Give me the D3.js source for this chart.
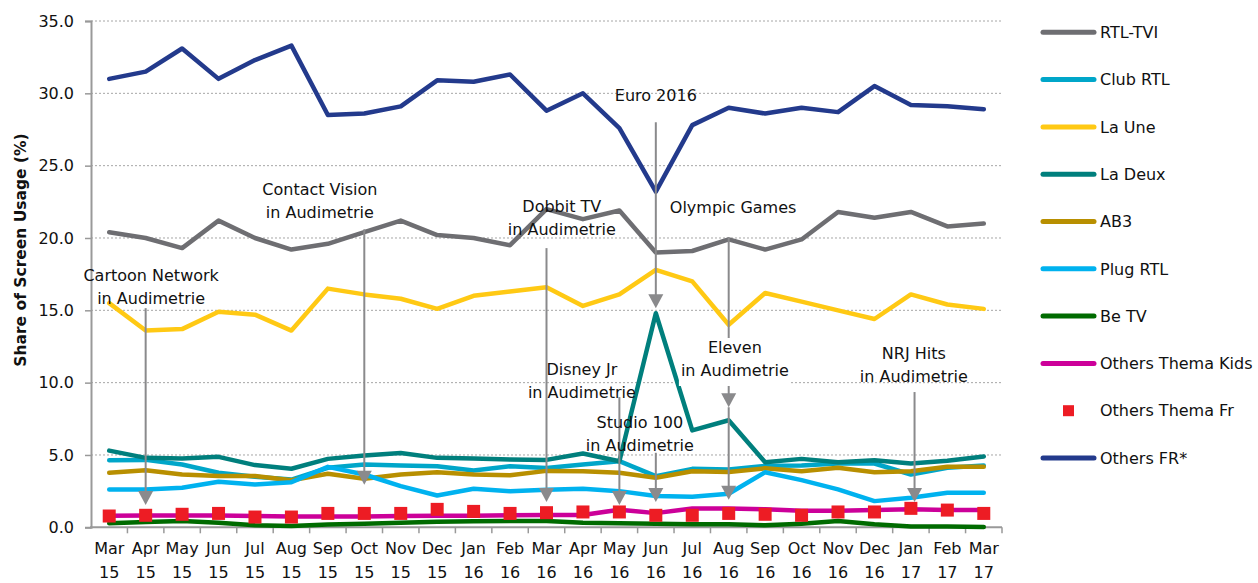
<!DOCTYPE html>
<html><head><meta charset="utf-8">
<script src="https://cdn.jsdelivr.net/npm/d3@7"></script>
<style>
html,body{margin:0;padding:0;background:#fff;}
svg text{font-family:"DejaVu Sans",Verdana,sans-serif;fill:#111;}
</style></head>
<body><svg id="chart" width="1258" height="583"></svg>
<script>
const months = ["Mar","Apr","May","Jun","Jul","Aug","Sep","Oct","Nov","Dec","Jan","Feb","Mar","Apr","May","Jun","Jul","Aug","Sep","Oct","Nov","Dec","Jan","Feb","Mar"];
const years  = ["15","15","15","15","15","15","15","15","15","15","16","16","16","16","16","16","16","16","16","16","16","16","17","17","17"];
const categories = months.map((m,i)=>m+" "+years[i]);
const yTicks = [0,5,10,15,20,25,30,35];

const rtlTVI   = [20.4,20.0,19.3,21.2,20.0,19.2,19.6,20.4,21.2,20.2,20.0,19.5,22.0,21.3,21.9,19.0,19.1,19.9,19.2,19.9,21.8,21.4,21.8,20.8,21.0];
const clubRTL  = [4.64,4.66,4.34,3.77,3.49,3.30,4.11,4.34,4.27,4.22,3.93,4.22,4.10,4.34,4.57,3.54,4.04,4.00,4.25,4.27,4.41,4.41,3.65,4.11,4.27];
const laUne    = [15.5,13.6,13.7,14.9,14.7,13.6,16.5,16.1,15.8,15.1,16.0,16.3,16.6,15.3,16.1,17.8,17.0,14.0,16.2,15.6,15.0,14.4,16.1,15.4,15.1];
const laDeux   = [5.30,4.80,4.75,4.87,4.30,4.05,4.73,4.96,5.14,4.80,4.75,4.69,4.66,5.10,4.57,14.8,6.70,7.40,4.50,4.73,4.50,4.64,4.41,4.60,4.90];
const ab3      = [3.77,3.95,3.65,3.54,3.55,3.25,3.70,3.35,3.65,3.81,3.65,3.60,3.90,3.88,3.77,3.42,3.88,3.83,4.08,3.88,4.11,3.81,3.88,4.18,4.18];
const plugRTL  = [2.62,2.62,2.73,3.15,2.96,3.12,4.18,3.65,2.85,2.20,2.67,2.50,2.60,2.67,2.50,2.16,2.11,2.32,3.81,3.26,2.62,1.81,2.04,2.39,2.39];
const beTV     = [0.28,0.37,0.44,0.32,0.14,0.09,0.20,0.25,0.32,0.39,0.42,0.43,0.44,0.32,0.28,0.25,0.21,0.21,0.14,0.25,0.44,0.21,0.05,0.05,0.02];
const themaKids= [0.80,0.82,0.82,0.82,0.78,0.75,0.75,0.75,0.78,0.80,0.80,0.83,0.85,0.85,1.22,0.98,1.30,1.30,1.25,1.15,1.15,1.20,1.25,1.20,1.20];
const themaFr  = [0.78,0.83,0.90,0.96,0.71,0.71,0.96,0.96,0.96,1.24,1.10,0.96,1.01,1.06,1.06,0.83,0.83,0.96,0.90,0.83,1.06,1.06,1.31,1.19,0.96];
const othersFR = [31.0,31.5,33.1,31.0,32.3,33.3,28.5,28.6,29.1,30.9,30.8,31.3,28.8,30.0,27.6,23.2,27.8,29.0,28.6,29.0,28.7,30.5,29.2,29.1,28.9];

const seriesNames  = ["RTL-TVI","Club RTL","La Une","La Deux","AB3","Plug RTL","Be TV","Others Thema Kids","Others Thema Fr","Others FR*"];
const seriesValues = [rtlTVI,clubRTL,laUne,laDeux,ab3,plugRTL,beTV,themaKids,themaFr,othersFR];
const seriesColors = ["#6e6e72","#00a6c9","#ffc914","#007f7d","#b88f00","#00b2ef","#006b00","#cc0099","#ed1c24","#233a8c"];
const seriesMarker = [false,false,false,false,false,false,false,false,true,false];

// annotations: category position (fractional index), text baseline value, arrow top/tip values
const annotations = [
  {lines:["Cartoon Network","in Audimetrie"], tx:1.15, ty:17.05, ax:1, a0:15.15, a1:1.55},
  {lines:["Contact Vision","in Audimetrie"],  tx:5.78, ty:22.97, ax:7, a0:20.6, a1:2.95},
  {lines:["Dobbit TV","in Audimetrie"],       tx:12.42,ty:21.79, ax:12,a0:19.3, a1:1.75},
  {lines:["Euro 2016"],                        tx:15.0, ty:29.47, ax:15,a0:28.0, a1:15.15},
  {lines:["Olympic Games"],                    tx:17.12,ty:21.73, ax:17,a0:20.0, a1:8.3},
  {lines:["Disney Jr","in Audimetrie"],       tx:12.97,ty:10.53, ax:14,a0:9.0,  a1:1.55},
  {lines:["Studio 100","in Audimetrie"],      tx:14.56,ty:6.86,  ax:15,a0:5.15, a1:1.75},
  {lines:["Eleven","in Audimetrie"],          tx:17.17,ty:12.05, ax:17,a0:8.3,  a1:1.9, bg:true},
  {lines:["NRJ Hits","in Audimetrie"],        tx:22.08,ty:11.63, ax:22.1,a0:9.35,a1:1.75}
];

const svg = d3.select("#chart");
const x = d3.scaleBand().domain(categories).range([91,1002]).paddingInner(0).paddingOuter(0);
const xi = d3.scaleLinear().domain([-0.5, categories.length-0.5]).range([91,1002]);
const xc = c => x(c) + x.bandwidth()/2;
const y = d3.scaleLinear().domain([0,35]).range([527.3,21]);

// gridlines
svg.append("g").selectAll("line").data(yTicks.filter(t=>t>0)).join("line")
  .attr("x1",91).attr("x2",1002).attr("y1",d=>y(d)).attr("y2",d=>y(d))
  .attr("stroke","#a6a6a6").attr("stroke-width",1).attr("stroke-dasharray","2,2");

// y axis
const yAx = svg.append("g").attr("transform","translate(91,0)")
  .call(d3.axisLeft(y).tickValues(yTicks).tickFormat(d3.format(".1f")).tickSize(6).tickPadding(11));
yAx.select(".domain").attr("stroke","#999").attr("stroke-width",2);
yAx.selectAll(".tick line").attr("stroke","#999").attr("stroke-width",1.5);
yAx.selectAll(".tick text").attr("font-size",16).attr("font-family","DejaVu Sans").attr("fill","#111");

// x axis
svg.append("line").attr("x1",90).attr("x2",1002).attr("y1",y(0)).attr("y2",y(0)).attr("stroke","#999").attr("stroke-width",2);
const bounds = d3.range(categories.length+1).map(i=>xi(i-0.5));
svg.append("g").selectAll("line").data(bounds.slice(1)).join("line")
  .attr("x1",d=>d).attr("x2",d=>d).attr("y1",y(0)).attr("y2",y(0)+6)
  .attr("stroke","#999").attr("stroke-width",1.5);
const xl = svg.append("g").selectAll("text").data(categories).join("text")
  .attr("text-anchor","middle").attr("font-size",16).attr("x",d=>xc(d));
xl.append("tspan").attr("x",d=>xc(d)).attr("y",554).text((d,i)=>months[i]);
xl.append("tspan").attr("x",d=>xc(d)).attr("y",578).text((d,i)=>years[i]);

// y title
svg.append("text").attr("transform","translate(26,250) rotate(-90)")
  .attr("text-anchor","middle").attr("font-size",15.5).attr("font-weight","bold").text("Share of Screen Usage (%)");

// series
const line = d3.line().x((d,i)=>xc(categories[i])).y(d=>y(d));
seriesValues.forEach((vals,k)=>{
  if(seriesMarker[k]){
    svg.append("g").selectAll("rect").data(vals).join("rect")
      .attr("x",(d,i)=>xc(categories[i])-6.5).attr("y",d=>y(d)-6.5)
      .attr("width",13).attr("height",13).attr("fill",seriesColors[k]);
  } else {
    svg.append("path").datum(vals).attr("d",line).attr("fill","none")
      .attr("stroke",seriesColors[k]).attr("stroke-width",4.5)
      .attr("stroke-linejoin","round").attr("stroke-linecap","round");
  }
});

// annotations
const arrowCol = "#8a8a8c";
const ag = svg.append("g");
annotations.forEach(a=>{
  const ax = xi(a.ax), yt = y(a.a0), yb = y(a.a1);
  ag.append("line").attr("x1",ax).attr("x2",ax).attr("y1",yt).attr("y2",yb-12)
    .attr("stroke",arrowCol).attr("stroke-width",2);
  ag.append("path").attr("d",`M${ax-7.5},${yb-14}L${ax+7.5},${yb-14}L${ax},${yb}Z`).attr("fill",arrowCol);
});
annotations.forEach(a=>{
  const tx = xi(a.tx), ty = y(a.ty);
  const g = svg.append("g");
  if(a.bg){
    g.append("rect").attr("x",tx-56).attr("y",ty-15).attr("width",112).attr("height",a.lines.length*23+2).attr("fill","#fff");
  }
  a.lines.forEach((l,j)=>{
    g.append("text").attr("x",tx).attr("y",ty+j*23).attr("text-anchor","middle").attr("font-size",16).text(l);
  });
});

// legend
const lg = svg.append("g");
seriesNames.forEach((n,k)=>{
  const ly = 32.3 + 47.3*k;
  if(seriesMarker[k]){
    lg.append("rect").attr("x",1063).attr("y",ly-5.5).attr("width",11).attr("height",11).attr("fill",seriesColors[k]);
  } else {
    lg.append("line").attr("x1",1043).attr("x2",1094).attr("y1",ly).attr("y2",ly)
      .attr("stroke",seriesColors[k]).attr("stroke-width",5).attr("stroke-linecap","round");
  }
  lg.append("text").attr("x",1100).attr("y",ly).attr("dy","0.36em").attr("font-size",16).text(n);
});
</script></body></html>
